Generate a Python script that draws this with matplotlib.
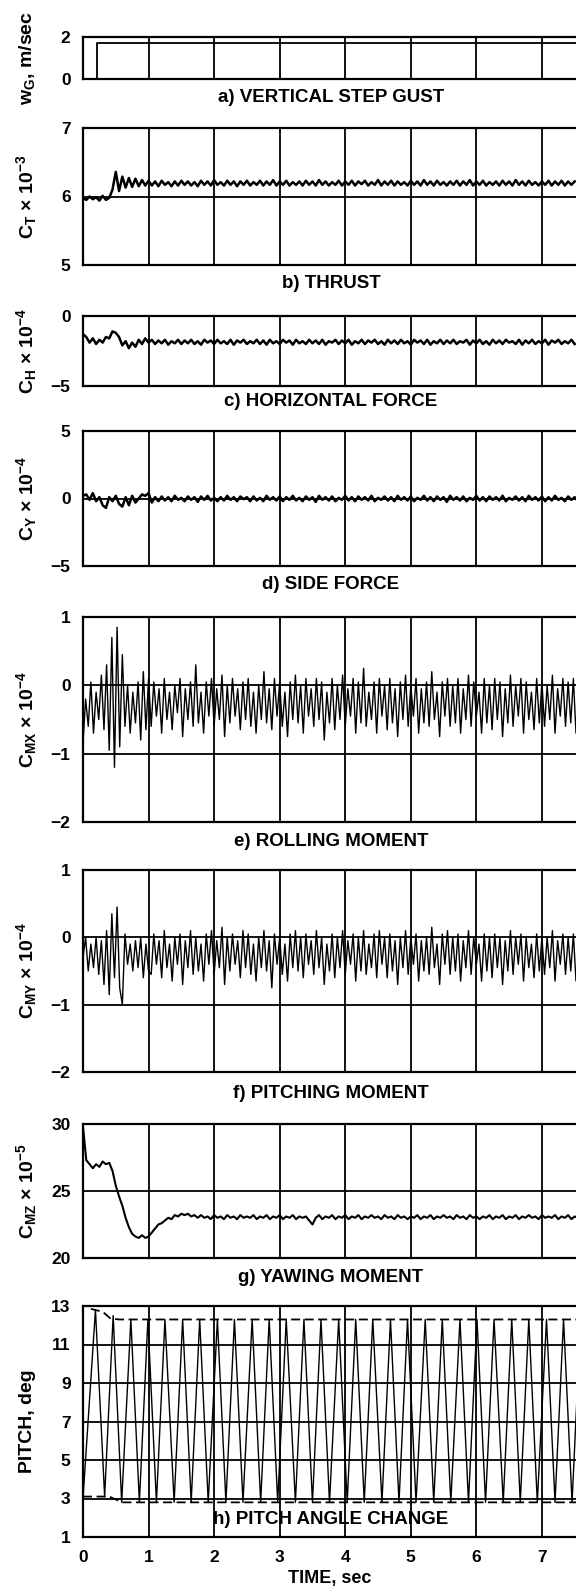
import numpy as np
import matplotlib
matplotlib.use("Agg")
import matplotlib.pyplot as plt

plt.rcParams["font.family"] = ["Liberation Sans", "DejaVu Sans"]
plt.rcParams["font.weight"] = "bold"
plt.rcParams["mathtext.fontset"] = "custom"
plt.rcParams["mathtext.rm"] = "Liberation Sans:bold"
plt.rcParams["mathtext.it"] = "Liberation Sans:bold"
plt.rcParams["mathtext.bf"] = "Liberation Sans:bold"

# ---- data ----
t_max = 7.52

gust_t = [0.0, 0.22, 0.22, 7.52]
gust_w = [0.0, 0.0, 1.7, 1.7]

# sampled every 0.05 s
thrust = [
    5.98, 5.95, 6.00, 5.96, 5.99, 5.94, 6.01, 5.95, 5.98,
    6.10, 6.36, 6.08, 6.29, 6.13, 6.27, 6.14, 6.26, 6.15, 6.24, 6.16, 6.23,
    6.16, 6.22, 6.15, 6.23, 6.17, 6.21, 6.15, 6.22, 6.16, 6.23,
    6.17, 6.22, 6.16, 6.21, 6.15, 6.23, 6.17, 6.22, 6.16, 6.24,
    6.17, 6.21, 6.16, 6.23, 6.17, 6.22, 6.15, 6.22, 6.17, 6.23,
    6.16, 6.21, 6.17, 6.23, 6.16, 6.22, 6.17, 6.24, 6.16, 6.22,
    6.17, 6.23, 6.16, 6.21, 6.17, 6.22, 6.16, 6.23, 6.17, 6.22,
    6.16, 6.24, 6.17, 6.22, 6.16, 6.21, 6.17, 6.23, 6.16, 6.22,
    6.17, 6.23, 6.16, 6.22, 6.18, 6.23, 6.16, 6.21, 6.17, 6.24,
    6.16, 6.22, 6.17, 6.23, 6.16, 6.22, 6.17, 6.21, 6.16, 6.23,
    6.17, 6.22, 6.16, 6.24, 6.17, 6.22, 6.16, 6.23, 6.17, 6.21,
    6.16, 6.22, 6.17, 6.23, 6.16, 6.22, 6.17, 6.24, 6.16, 6.22,
    6.17, 6.23, 6.16, 6.21, 6.17, 6.22, 6.16, 6.23, 6.17, 6.22,
    6.16, 6.24, 6.17, 6.22, 6.16, 6.23, 6.17, 6.21, 6.16, 6.22,
    6.17, 6.23, 6.16, 6.22, 6.17, 6.23, 6.16, 6.22, 6.17, 6.22,
]

horiz = [
    -1.3, -1.5, -1.9, -1.6, -2.0, -1.7, -1.9, -1.5, -1.6, -1.1, -1.2,
    -1.5, -2.1, -1.8, -2.3, -1.9, -2.2, -1.7, -2.0, -1.6, -1.9,
    -1.7, -2.0, -1.75, -1.95, -1.7, -2.05, -1.8, -1.95, -1.7, -2.0,
    -1.75, -1.95, -1.7, -2.0, -1.8, -2.05, -1.7, -1.9, -1.75, -2.0,
    -1.7, -1.95, -1.8, -2.0, -1.7, -2.05, -1.75, -1.9, -1.7, -2.0,
    -1.8, -1.95, -1.7, -2.0, -1.75, -2.05, -1.7, -1.95, -1.8, -2.0,
    -1.7, -1.9, -1.75, -2.05, -1.7, -1.95, -1.8, -2.0, -1.7, -1.95,
    -1.75, -2.0, -1.7, -2.05, -1.8, -1.9, -1.7, -2.0, -1.75, -1.95,
    -1.7, -2.05, -1.8, -1.95, -1.7, -2.0, -1.75, -1.9, -1.7, -2.0,
    -1.8, -2.05, -1.7, -1.95, -1.75, -2.0, -1.7, -1.95, -1.8, -2.05,
    -1.7, -1.9, -1.75, -2.0, -1.7, -2.05, -1.8, -1.95, -1.7, -2.0,
    -1.75, -1.95, -1.7, -2.0, -1.8, -1.9, -1.7, -2.05, -1.75, -1.95,
    -1.7, -2.0, -1.8, -2.05, -1.7, -1.95, -1.75, -2.0, -1.7, -1.9,
    -1.8, -2.0, -1.7, -2.05, -1.75, -1.95, -1.7, -2.0, -1.8, -1.95,
    -1.7, -2.05, -1.75, -1.9, -1.7, -2.0, -1.8, -1.95, -1.7, -2.0,
]

side = [
    0.2, 0.3, -0.1, 0.4, -0.2, 0.1, -0.5, -0.7, 0.1, -0.2, 0.2,
    -0.4, -0.6, 0.1, -0.5, 0.2, -0.3, 0.0, 0.3, 0.2, 0.4, -0.3,
    0.1, -0.2, 0.15, -0.15, 0.1, -0.2, 0.2, -0.1, 0.05, -0.2,
    0.15, -0.1, 0.1, -0.25, 0.15, -0.1, 0.2, -0.15, 0.05, -0.2,
    0.1, -0.15, 0.2, -0.1, 0.1, -0.2, 0.15, -0.05, 0.1, -0.2,
    0.15, -0.15, 0.05, -0.2, 0.2, -0.1, 0.1, -0.15, 0.15, -0.2,
    0.1, -0.1, 0.2, -0.15, 0.05, -0.2, 0.15, -0.1, 0.1, -0.25,
    0.2, -0.1, 0.1, -0.15, 0.15, -0.2, 0.05, -0.1, 0.2, -0.15,
    0.1, -0.2, 0.15, -0.1, 0.1, -0.15, 0.2, -0.2, 0.05, -0.1,
    0.15, -0.15, 0.1, -0.2, 0.2, -0.1, 0.1, -0.15, 0.15, -0.2,
    0.05, -0.1, 0.2, -0.15, 0.1, -0.2, 0.15, -0.1, 0.1, -0.25,
    0.2, -0.1, 0.1, -0.15, 0.15, -0.2, 0.05, -0.1, 0.2, -0.15,
    0.1, -0.2, 0.15, -0.1, 0.1, -0.15, 0.2, -0.2, 0.05, -0.1,
    0.15, -0.15, 0.1, -0.2, 0.2, -0.1, 0.1, -0.15, 0.15, -0.2,
    0.1, -0.15, 0.2, -0.1, 0.05, -0.2, 0.15, -0.1, 0.1, -0.2,
]

yawing = [
    29.8, 27.3, 27.0, 26.7, 27.0, 26.8, 27.2, 27.0, 27.1, 26.5, 25.4,
    24.6, 23.9, 23.0, 22.3, 21.8, 21.6, 21.5, 21.7, 21.5, 21.6, 21.9,
    22.2, 22.5, 22.6, 22.8, 23.0, 22.9, 23.2, 23.1, 23.3, 23.2, 23.3,
    23.1, 23.2, 23.0, 23.2, 23.0, 23.1, 22.9, 23.2, 23.0, 23.1,
    22.9, 23.2, 23.0, 23.1, 22.9, 23.2, 23.0, 23.1, 23.0, 23.2,
    22.9, 23.1, 23.0, 23.2, 22.9, 23.1, 23.0, 23.2, 22.9, 23.1,
    23.0, 23.2, 22.9, 23.1, 23.0, 23.1, 22.8, 22.5, 23.0, 23.2,
    22.9, 23.1, 23.0, 23.2, 22.9, 23.1, 23.0, 23.2, 22.9, 23.1,
    23.0, 23.2, 22.9, 23.1, 23.0, 23.2, 23.0, 23.1, 22.9, 23.2,
    23.0, 23.1, 22.9, 23.2, 23.0, 23.1, 22.9, 23.1, 23.0, 23.2,
    22.9, 23.1, 23.0, 23.2, 22.9, 23.1, 23.0, 23.2, 23.0, 23.1,
    22.9, 23.2, 23.0, 23.1, 22.9, 23.2, 23.0, 23.1, 22.9, 23.1,
    23.0, 23.2, 22.9, 23.1, 23.0, 23.2, 22.9, 23.1, 23.0, 23.2,
    22.9, 23.1, 23.0, 23.2, 23.0, 23.1, 22.9, 23.2, 23.0, 23.1,
    23.0, 23.2, 22.9, 23.1, 23.0, 23.2, 22.9, 23.1, 23.0, 23.1,
]

# sampled every 0.04 s
rolling = [
    -0.85, -0.2, -0.6, 0.05, -0.7, -0.1, -0.5, 0.15, -0.65, 0.3, -0.95, 0.7, -1.2,
    0.85, -0.9, 0.45, -0.6, 0.0, -0.7, -0.1, -0.55, 0.05, -0.8, 0.2, -0.65, 0.1,
    -0.6, 0.05, -0.45, -0.05, -0.7, 0.1, -0.5, -0.1, -0.65, 0.0,
    -0.4, 0.1, -0.75, -0.05, -0.5, 0.05, -0.6, 0.3, -0.55, -0.1,
    -0.7, 0.05, -0.45, 0.1, -0.6, -0.05, -0.5, 0.15, -0.75, 0.0,
    -0.55, 0.1, -0.45, -0.05, -0.65, 0.05, -0.5, 0.1, -0.6, -0.1,
    -0.7, 0.0, -0.5, 0.2, -0.55, -0.05, -0.65, 0.1, -0.45, 0.05,
    -0.6, -0.1, -0.75, 0.05, -0.5, 0.15, -0.55, 0.0, -0.7, 0.1,
    -0.45, -0.05, -0.6, 0.1, -0.5, 0.05, -0.8, -0.1, -0.55, 0.1,
    -0.65, 0.0, -0.5, 0.15, -0.6, -0.05, -0.45, 0.1, -0.7, 0.05,
    -0.55, 0.25, -0.6, -0.1, -0.5, 0.05, -0.7, 0.1, -0.45, 0.0,
    -0.65, 0.1, -0.55, -0.05, -0.75, 0.05, -0.5, 0.15, -0.6, 0.0,
    -0.45, 0.1, -0.7, -0.05, -0.55, 0.05, -0.6, 0.2, -0.5, -0.1,
    -0.75, 0.05, -0.45, 0.1, -0.6, 0.0, -0.55, 0.1, -0.7, -0.05,
    -0.5, 0.15, -0.6, 0.05, -0.45, -0.1, -0.7, 0.1, -0.55, 0.0,
    -0.65, 0.1, -0.5, 0.05, -0.75, -0.05, -0.55, 0.15, -0.6, 0.0,
    -0.45, 0.1, -0.7, 0.05, -0.5, -0.1, -0.65, 0.1, -0.55, 0.05,
    -0.6, 0.0, -0.5, 0.15, -0.7, -0.05, -0.45, 0.1, -0.6, 0.05,
    -0.55, 0.1, -0.7, 0.0,
]

pitching = [
    -0.3, 0.0, -0.5, -0.1, -0.45, 0.0, -0.55, -0.05, -0.7, 0.1, -0.85, 0.35, -0.6,
    0.45, -0.75, -1.0, 0.05, -0.4, -0.1, -0.5, -0.05, -0.45, 0.0, -0.6, -0.1, -0.5,
    -0.55, 0.05, -0.4, -0.05, -0.6, 0.1, -0.45, -0.1, -0.65, 0.0,
    -0.4, 0.05, -0.7, -0.05, -0.45, 0.1, -0.55, 0.0, -0.5, -0.1,
    -0.65, 0.05, -0.4, 0.1, -0.55, -0.05, -0.45, 0.15, -0.7, 0.0,
    -0.5, 0.05, -0.4, -0.05, -0.6, 0.1, -0.45, 0.05, -0.55, -0.1,
    -0.65, 0.0, -0.45, 0.1, -0.5, -0.05, -0.75, 0.05, -0.4, 0.0,
    -0.55, -0.1, -0.65, 0.05, -0.45, 0.1, -0.5, 0.0, -0.6, 0.05,
    -0.4, -0.05, -0.55, 0.1, -0.45, 0.0, -0.7, -0.1, -0.5, 0.05,
    -0.6, 0.0, -0.45, 0.1, -0.55, -0.05, -0.4, 0.05, -0.65, 0.0,
    -0.5, 0.1, -0.55, -0.1, -0.45, 0.05, -0.6, 0.1, -0.4, 0.0,
    -0.6, 0.05, -0.5, -0.05, -0.7, 0.0, -0.45, 0.1, -0.55, 0.0,
    -0.4, 0.05, -0.65, -0.05, -0.5, 0.0, -0.55, 0.15, -0.45, -0.1,
    -0.7, 0.05, -0.4, 0.1, -0.55, 0.0, -0.5, 0.05, -0.65, -0.05,
    -0.45, 0.1, -0.55, 0.0, -0.4, -0.1, -0.65, 0.05, -0.5, 0.0,
    -0.6, 0.05, -0.45, 0.0, -0.7, -0.05, -0.5, 0.1, -0.55, 0.0,
    -0.4, 0.05, -0.65, 0.0, -0.45, -0.1, -0.6, 0.05, -0.5, 0.0,
    -0.55, 0.0, -0.45, 0.1, -0.65, -0.05, -0.4, 0.05, -0.55, 0.0,
    -0.5, 0.05, -0.65, 0.0,
]

# pitch: turning points of the oscillation
pitch_t = [
    0.0, 0.19, 0.33, 0.46, 0.59, 0.73, 0.86, 0.99, 1.12, 1.25, 1.39, 1.52,
    1.65, 1.78, 1.91, 2.05, 2.18, 2.31, 2.44, 2.58, 2.71, 2.84, 2.97, 3.10,
    3.24, 3.37, 3.50, 3.63, 3.76, 3.90, 4.03, 4.16, 4.29, 4.42, 4.56, 4.69,
    4.82, 4.95, 5.08, 5.22, 5.35, 5.48, 5.61, 5.75, 5.88, 6.01, 6.14, 6.27,
    6.41, 6.54, 6.67, 6.80, 6.93, 7.07, 7.20, 7.33, 7.46, 7.59,
]
pitch_deg = [
    3.0, 12.8, 3.1, 12.5, 2.8, 12.3, 2.8, 12.3, 2.8, 12.3, 2.8, 12.3,
    2.8, 12.3, 2.8, 12.3, 2.8, 12.3, 2.8, 12.3, 2.8, 12.3, 2.8, 12.3,
    2.8, 12.3, 2.8, 12.3, 2.8, 12.3, 2.8, 12.3, 2.8, 12.3, 2.8, 12.3,
    2.8, 12.3, 2.8, 12.3, 2.8, 12.3, 2.8, 12.3, 2.8, 12.3, 2.8, 12.3,
    2.8, 12.3, 2.8, 12.3, 2.8, 12.3, 2.8, 12.3, 2.8, 12.3,
]
env_top_t = [0.12, 0.3, 0.42, 0.55, 7.52]
env_top_v = [12.85, 12.7, 12.35, 12.3, 12.3]
env_bot_t = [0.0, 0.4, 0.5, 0.6, 7.52]
env_bot_v = [3.1, 3.1, 2.95, 2.8, 2.8]

x_ticks = [0, 1, 2, 3, 4, 5, 6, 7]

# ---- layout (pixels of the 576 x 1591 page) ----
W, H = 576, 1591
left_px = 83
title_x_px = 331

fig = plt.figure(figsize=(W / 100, H / 100), dpi=100)


def make_axes(top, bottom, ylim, yticks, ylabel, title, title_y):
    ax = fig.add_axes([left_px / W, 1 - bottom / H, 1 - left_px / W, (bottom - top) / H])
    ax.set_xlim(0, t_max)
    ax.set_ylim(*ylim)
    ax.set_yticks(yticks)
    ax.set_xticks(x_ticks)
    ax.set_yticklabels([str(v).replace("-", "\u2212") for v in yticks])
    ax.tick_params(length=0, pad=9, labelsize=12.5)
    ax.tick_params(axis="x", labelbottom=False)
    for v in x_ticks[1:]:
        ax.axvline(v, color="black", lw=1.3, zorder=1)
    for v in yticks:
        if ylim[0] < v < ylim[1]:
            ax.axhline(v, color="black", lw=1.3, zorder=1)
    for s in ["left", "top", "bottom"]:
        ax.spines[s].set_linewidth(1.6)
    ax.spines["right"].set_visible(False)
    fig.text(27 / W, 1 - (top + bottom) / 2 / H, ylabel, rotation=90,
             ha="center", va="center", fontsize=14, fontweight="bold")
    fig.text(title_x_px / W, 1 - title_y / H, title, ha="center", va="center",
             fontsize=13.5, fontweight="bold")
    return ax


ax = make_axes(37, 79, (0, 2), [0, 2], r"w$_{G}$, m/sec", "a) VERTICAL STEP GUST", 97)
ax.plot(gust_t, gust_w, color="black", lw=1.3)

ax = make_axes(128, 265, (5, 7), [5, 6, 7], r"C$_{T}$ × 10$^{-3}$", "b) THRUST", 283)
ax.plot(np.arange(len(thrust)) * 0.05, thrust, color="black", lw=1.8)

ax = make_axes(316, 386, (-5, 0), [-5, 0], r"C$_{H}$ × 10$^{-4}$", "c) HORIZONTAL FORCE", 402)
ax.plot(np.arange(len(horiz)) * 0.05, horiz, color="black", lw=1.8)

ax = make_axes(431, 566, (-5, 5), [-5, 0, 5], r"C$_{Y}$ × 10$^{-4}$", "d) SIDE FORCE", 585)
ax.plot(np.arange(len(side)) * 0.05, side, color="black", lw=1.8)

ax = make_axes(617, 822, (-2, 1), [-2, -1, 0, 1], r"C$_{MX}$ × 10$^{-4}$", "e) ROLLING MOMENT", 841)
ax.plot(np.arange(len(rolling)) * 0.04, rolling, color="black", lw=1.0)

ax = make_axes(870, 1072, (-2, 1), [-2, -1, 0, 1], r"C$_{MY}$ × 10$^{-4}$", "f) PITCHING MOMENT", 1093)
ax.plot(np.arange(len(pitching)) * 0.04, pitching, color="black", lw=1.0)

ax = make_axes(1124, 1258, (20, 30), [20, 25, 30], r"C$_{MZ}$ × 10$^{-5}$", "g) YAWING MOMENT", 1277)
ax.plot(np.arange(len(yawing)) * 0.05, yawing, color="black", lw=1.5)

ax = make_axes(1306, 1537, (1, 13), [1, 3, 5, 7, 9, 11, 13], "PITCH, deg", "h) PITCH ANGLE CHANGE", 1519)
ax.plot(pitch_t, pitch_deg, color="black", lw=1.0)
ax.plot(env_top_t, env_top_v, color="black", lw=1.3, ls=(0, (5, 2.5)))
ax.plot(env_bot_t, env_bot_v, color="black", lw=1.3, ls=(0, (5, 2.5)))
ax.tick_params(axis="x", labelbottom=True)
ax.set_xticklabels([str(v) for v in x_ticks])
ax.set_xlabel("TIME, sec", fontsize=13, fontweight="bold", labelpad=4)

fig.savefig("out.png", dpi=100)
